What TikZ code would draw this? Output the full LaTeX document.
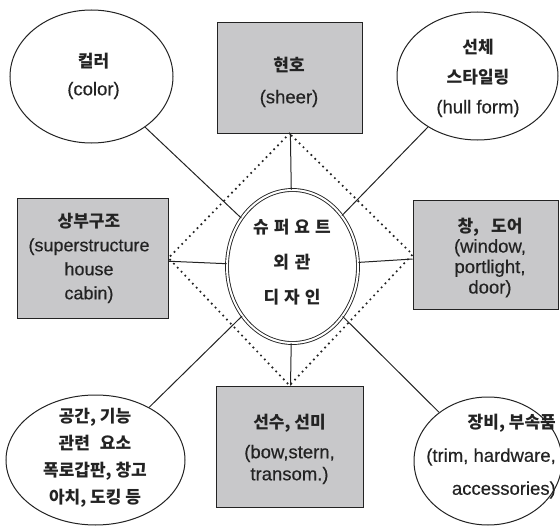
\documentclass[tikz,border=0pt]{standalone}
\usepackage{fontspec}
\setmainfont{Liberation Sans}[FakeBold=0.4,AutoFakeBold=0.4]
\newfontfamily\kr{Noto Sans CJK KR}
\usetikzlibrary{shapes.geometric}
\definecolor{boxgray}{RGB}{200,200,202}
\definecolor{ink}{RGB}{35,35,35}
\newcommand\kor[1]{{\kr\bfseries\fontsize{17}{17}\selectfont #1}}
\tikzset{
  oval/.style={ellipse, draw=ink, line width=1pt, inner sep=0pt, fill=white},
  graybox/.style={rectangle, draw=ink, line width=1pt, fill=boxgray, inner sep=0pt},
  txt/.style={align=center, inner sep=0pt, text=ink},
  link/.style={draw=ink, line width=1pt},
  dotline/.style={draw=ink, line width=2.4pt, dash pattern=on 0pt off 5.5pt, line cap=round}
}
\begin{document}
\begin{tikzpicture}[x=1pt, y=-1pt]
\useasboundingbox (0,0) rectangle (560,527);
% shapes
\node[oval, minimum width=163pt, minimum height=133pt] (color) at (91.5,76.5) {};
\node[graybox, minimum width=145pt, minimum height=110pt] (sheer) at (289.5,78) {};
\node[oval, minimum width=161pt, minimum height=128pt] (hull) at (477.5,76) {};
\node[graybox, minimum width=151pt, minimum height=120pt] (super) at (92.5,258) {};
\node[graybox, minimum width=145pt, minimum height=109pt] (window) at (485.5,254.5) {};
\node[graybox, minimum width=147pt, minimum height=121pt] (bow) at (289.5,446.5) {};
\node[oval, minimum width=179pt, minimum height=130pt] (space) at (95.5,460) {};
\node[oval, minimum width=148pt, minimum height=128pt] (equip) at (488,461) {};
\node[ellipse, draw=ink, double=white, double distance=2pt, line width=0.9pt, fill=white, inner sep=0pt, minimum width=131pt, minimum height=153pt] (center) at (292.5,266.5) {};
% connectors
\draw[link] (color) -- (center);
\draw[link] (hull) -- (center);
\draw[link] (space) -- (center);
\draw[link] (equip) -- (center);
\draw[link] (sheer) -- (center);
\draw[link] (bow) -- (center);
\draw[link] (super) -- (center);
\draw[link] (window) -- (center);
\draw[dotline] (sheer.south) -- (super.east) -- (bow.north) -- (window.west) -- cycle;
% texts
\node[txt, font=\fontsize{18.5}{28}\selectfont] (tcolor) at (93.5,76) {\kor{컬러}\\(color)};
\node[txt, font=\fontsize{18.5}{32}\selectfont] (tsheer) at (289,82) {\kor{현호}\\(sheer)};
\node[txt, font=\fontsize{18.5}{30}\selectfont] (thull) at (478,78) {\kor{선체}\\\kor{스타일링}\\(hull form)};
\node[txt, font=\fontsize{18}{24}\selectfont] (tsuper) at (89,258) {\kor{상부구조}\\(superstructure\\house\\cabin)};
\node[txt, font=\fontsize{17}{35}\selectfont] (tcenter) at (292,262) {\kor{슈\hspace{5pt}퍼\hspace{5pt}요\hspace{5pt}트}\\\kor{외\hspace{6pt}관}\\\kor{디\hspace{5pt}자\hspace{5pt}인}};
\node[txt, font=\fontsize{18.5}{20.5}\selectfont] (twindow) at (490,257.5) {\kor{창,\hspace{12pt}도어}\\(window,\\portlight,\\door)};
\node[txt, font=\fontsize{18.5}{22}\selectfont] (tbow) at (289.5,449) {\kor{선수, 선미}\\[8pt](bow,stern,\\transom.)};
\node[txt, font=\fontsize{17}{27}\selectfont] (tspace) at (95,458) {\kor{공간, 기능}\\\kor{관련\hspace{10pt}요소}\\\kor{폭로갑판, 창고}\\\kor{아치, 도킹 등}};
\node[txt, align=right, anchor=east, font=\fontsize{18.5}{33}\selectfont] (tequip) at (556,456.5) {\kor{장비, 부속품}\\(trim, hardware,\\accessories)};
\end{tikzpicture}
\end{document}
